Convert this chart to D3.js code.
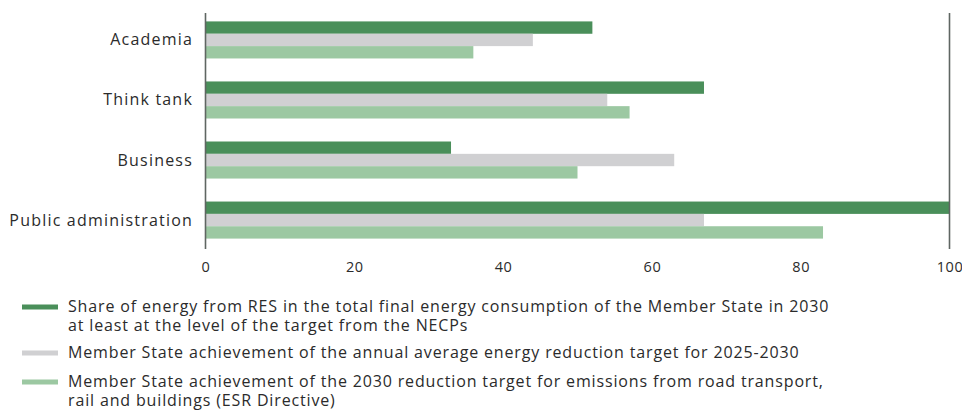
<!DOCTYPE html>
<html>
<head>
<meta charset="utf-8">
<script src="https://cdn.jsdelivr.net/npm/d3@7"></script>
<style>
  body { margin: 0; background: #fff; }
  svg text { font-family: "Open Sans", sans-serif; fill: #2b2b2b; }
</style>
</head>
<body>
<div id="chart"></div>
<script>
var categories = ["Academia", "Think tank", "Business", "Public administration"];
var seriesNames = [
  ["Share of energy from RES in the total final energy consumption of the Member State in 2030",
   "at least at the level of the target from the NECPs"],
  ["Member State achievement of the annual average energy reduction target for 2025-2030"],
  ["Member State achievement of the 2030 reduction target for emissions from road transport,",
   "rail and buildings (ESR Directive)"]
];
var resShare = [52, 67, 33, 100];
var energyReduction = [44, 54, 63, 67];
var esrTarget = [36, 57, 50, 83];
var xTicks = [0, 20, 40, 60, 80, 100];
var colors = ["#4a8f5a", "#d0d0d2", "#9cc8a2"];

var series = [resShare, energyReduction, esrTarget];

var w = 962, h = 410;
var svg = d3.select("#chart").append("svg")
    .attr("width", w)
    .attr("height", h);

var x = d3.scaleLinear().domain([0, 100]).range([205.5, 949.5]);
var y = d3.scaleBand().domain(categories).range([10, 250]).paddingInner(0.383).paddingOuter(0.19);
var ySub = d3.scaleBand().domain([0, 1, 2]).range([0, y.bandwidth()]);

// bars
var groups = svg.selectAll("g.cat")
    .data(categories)
    .enter()
    .append("g")
    .attr("class", "cat")
    .attr("transform", function(d) { return "translate(0," + y(d) + ")"; });

groups.selectAll("rect")
    .data(function(d, i) { return series.map(function(s, j) { return {v: s[i], k: j}; }); })
    .enter()
    .append("rect")
    .attr("x", x(0))
    .attr("y", function(d) { return ySub(d.k); })
    .attr("width", function(d) { return x(d.v) - x(0); })
    .attr("height", ySub.bandwidth())
    .style("fill", function(d) { return colors[d.k]; });

// vertical lines at 0 and 100
svg.selectAll("line.edge")
    .data([0, 100])
    .enter()
    .append("line")
    .attr("class", "edge")
    .attr("x1", function(d) { return x(d); })
    .attr("x2", function(d) { return x(d); })
    .attr("y1", 13)
    .attr("y2", 249)
    .style("stroke", "#5f6662")
    .style("stroke-width", 1.6);

// category labels
svg.selectAll("text.cat")
    .data(categories)
    .enter()
    .append("text")
    .attr("class", "cat")
    .attr("x", 193)
    .attr("y", function(d) { return y(d) + y.bandwidth() / 2 + 5.5; })
    .attr("text-anchor", "end")
    .style("font-size", "16px")
    .style("letter-spacing", "1.2px")
    .text(function(d) { return d; });

// x axis tick labels
var xAxis = d3.axisBottom(x).tickValues(xTicks).tickSize(0).tickPadding(0);
var ax = svg.append("g").attr("transform", "translate(0,262)").call(xAxis);
ax.select(".domain").remove();
ax.selectAll("text")
    .style("font-size", "14.5px")
    .style("letter-spacing", "0.6px")
    .style("font-family", "\"Open Sans\", sans-serif")
    .attr("fill", "#2b2b2b");

// legend
var legendY = [307, 353, 382];
var lg = svg.selectAll("g.legend")
    .data(seriesNames)
    .enter()
    .append("g")
    .attr("class", "legend")
    .attr("transform", function(d, i) { return "translate(0," + legendY[i] + ")"; });

lg.append("rect")
    .attr("x", 22)
    .attr("y", -2.5)
    .attr("width", 36)
    .attr("height", 5)
    .style("fill", function(d, i) { return colors[i]; });

lg.selectAll("text")
    .data(function(d) { return d; })
    .enter()
    .append("text")
    .attr("x", 68)
    .attr("y", function(d, i) { return 5 + i * 19; })
    .style("font-size", "16px")
    .style("letter-spacing", "0.85px")
    .text(function(d) { return d; });
</script>
</body>
</html>
